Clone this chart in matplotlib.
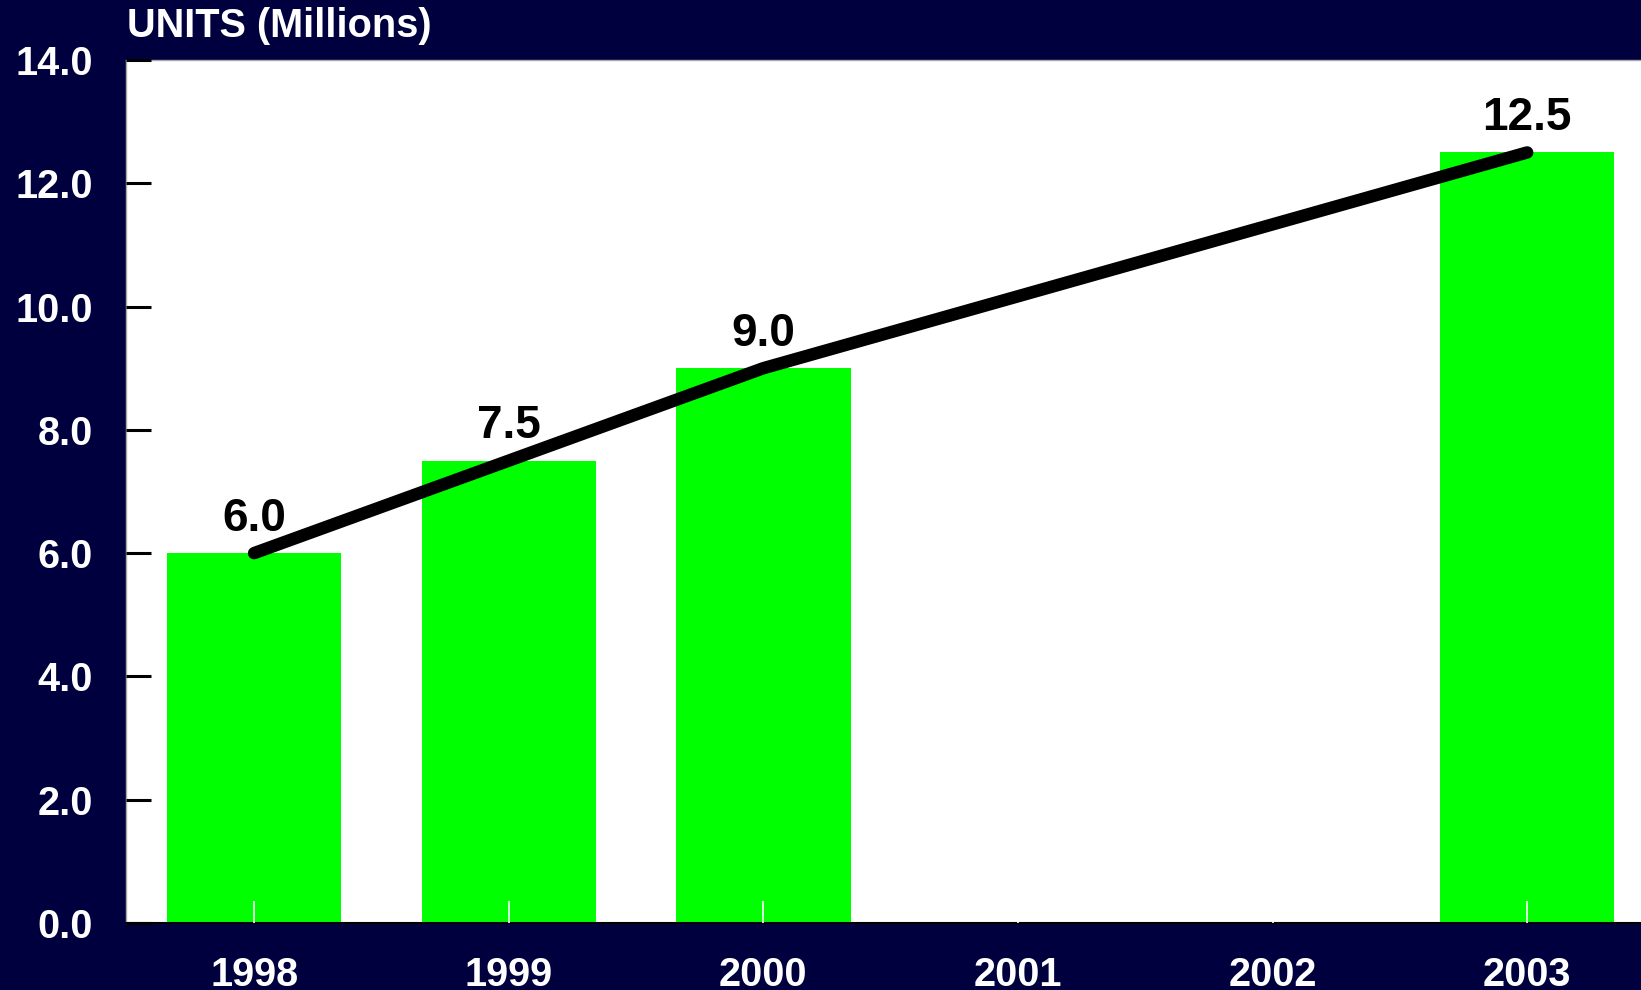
import matplotlib.pyplot as plt

# data
years = ['1998', '1999', '2000', '2001', '2002', '2003']
bar_values = [6.0, 7.5, 9.0, None, None, 12.5]
trend_idx = [0, 1, 2, 5]
trend_values = [6.0, 7.5, 9.0, 12.5]
yticks = [0, 2, 4, 6, 8, 10, 12, 14]

navy = '#00003F'
green = '#00FF00'

plt.rcParams['font.family'] = ['Liberation Sans', 'DejaVu Sans']
plt.rcParams['font.weight'] = 'bold'

fig = plt.figure(figsize=(16.41, 9.90), dpi=100, facecolor=navy)
ax = fig.add_axes([0.0768, 0.0677, 0.9232, 0.8717])
ax.set_facecolor('white')
ax.set_axisbelow(False)

# bars (skip missing years)
bx = [i for i, v in enumerate(bar_values) if v is not None]
bh = [v for v in bar_values if v is not None]
ax.bar(bx, bh, width=0.685, color=green, zorder=2)

# trend line
ax.plot(trend_idx, trend_values, color='black', linewidth=9,
        solid_capstyle='round', solid_joinstyle='round', zorder=3)

for x, v in zip(trend_idx, trend_values):
    ax.annotate(f'{v:.1f}', (x, v), xytext=(0, 16), textcoords='offset points',
                ha='center', va='baseline', fontsize=33, fontweight='bold',
                color='black', zorder=4)

ax.set_xlim(-0.503, 5.447)
ax.set_ylim(0, 14)
ax.set_xticks(range(len(years)))
ax.set_xticklabels(years)
ax.set_yticks(yticks)
ax.set_yticklabels([f'{t:.1f}' for t in yticks])

ax.tick_params(axis='y', direction='in', length=18, width=2.2, color='black',
               labelcolor='white', labelsize=28.5, pad=24)
ax.tick_params(axis='x', direction='in', length=16, width=1.2, color='white',
               labelcolor='white', labelsize=28.5, pad=24)
for lab in ax.get_xticklabels() + ax.get_yticklabels():
    lab.set_fontweight('bold')

for side in ['left', 'top']:
    ax.spines[side].set_color('#AAAAAA')
    ax.spines[side].set_linewidth(1)
ax.spines['right'].set_visible(False)
ax.spines['bottom'].set_color('black')
ax.spines['bottom'].set_linewidth(1.5)

fig.text(127 / 1641, 1 - 37 / 990, 'UNITS (Millions)', color='white',
         fontsize=28.6, fontweight='bold', ha='left', va='baseline')

fig.savefig('out.png', dpi=100, facecolor=navy)
